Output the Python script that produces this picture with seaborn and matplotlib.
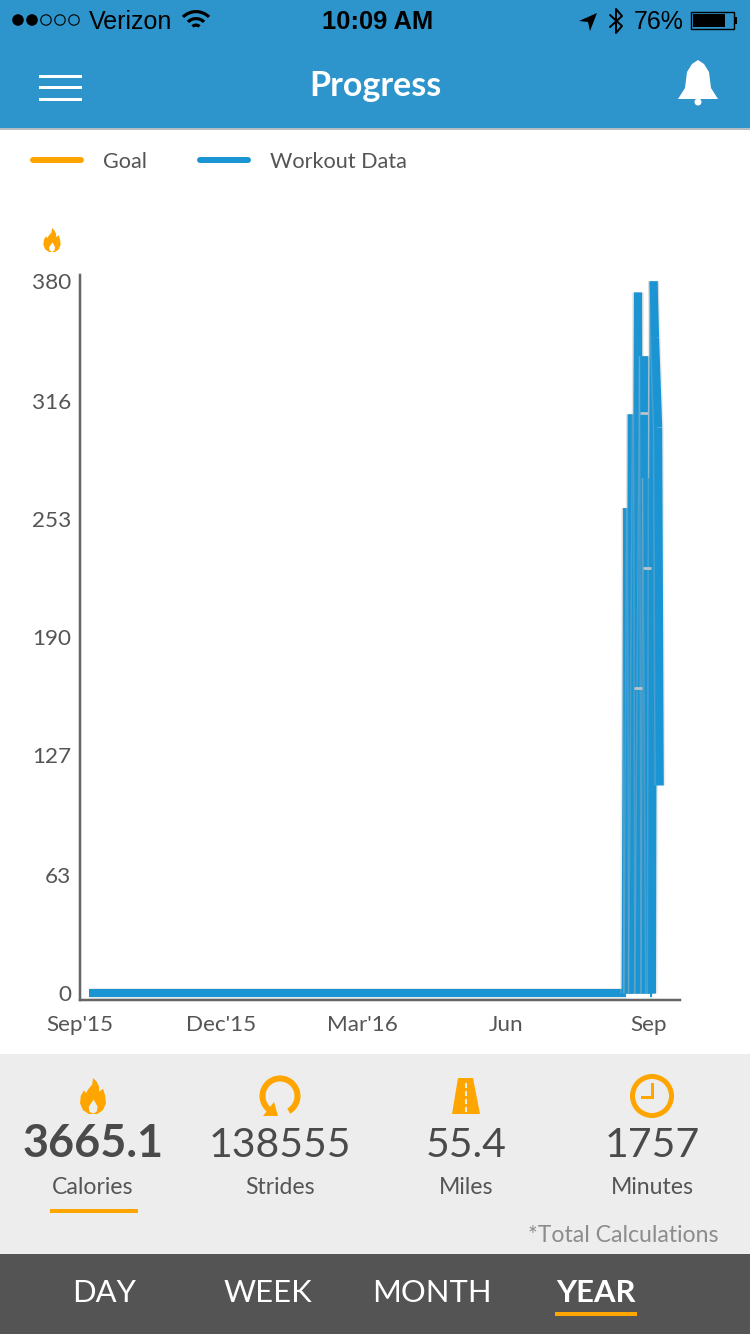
import numpy as np
import pandas as pd
import matplotlib
matplotlib.use("Agg")
import matplotlib.pyplot as plt
import matplotlib.patheffects as pe
from matplotlib.patches import Rectangle, Circle, Polygon, Wedge
from matplotlib.lines import Line2D
import seaborn as sns

# chart data
workout_dates = ["2015-09-07", "2016-08-17", "2016-08-18", "2016-08-19", "2016-08-21", "2016-08-22",
                 "2016-08-25", "2016-08-26", "2016-08-29", "2016-08-30", "2016-08-31", "2016-09-02",
                 "2016-09-03", "2016-09-04", "2016-09-05", "2016-09-07", "2016-09-08"]
workout_values = [0, 0, 259, 0, 309, 0, 374, 0, 340, 0, 275, 0, 0, 380, 350, 302, 111]
seam_dates = ["2016-08-25", "2016-08-29", "2016-08-31"]
seam_values = [163, 310, 227]
y_ticks = [0, 63, 127, 190, 253, 316, 380]
x_ticks = ["2015-09-01", "2015-12-01", "2016-03-01", "2016-06-01", "2016-09-01"]
x_labels = ["Sep'15", "Dec'15", "Mar'16", "Jun", "Sep"]
legend_labels = ["Goal", "Workout Data"]
stat_values = ["3665.1", "138555", "55.4", "1757"]
stat_labels = ["Calories", "Strides", "Miles", "Minutes"]
tab_labels = ["DAY", "WEEK", "MONTH", "YEAR"]

ORANGE = "#FFA500"
BLUE = "#1B94D3"
HEADER = "#2D95CB"
TEXT = "#555555"
W, H = 750, 1334


def px(size):
    # font size in screenshot pixels to points
    return size * 0.72


def flame(ax, cx, top, h, color=ORANGE, inner="#EDEDED"):
    # flame icon, outline in units of its height
    outer = [(0.0, 0.0), (0.1, 0.1), (0.17, 0.24), (0.17, 0.38), (0.28, 0.3), (0.34, 0.5), (0.36, 0.7),
             (0.28, 0.89), (0.12, 1.0), (-0.12, 1.0), (-0.28, 0.89), (-0.36, 0.7), (-0.34, 0.5), (-0.25, 0.34),
             (-0.2, 0.42), (-0.12, 0.3), (-0.02, 0.18)]
    ax.add_patch(Polygon([(cx + x * h, top + y * h) for x, y in outer], color=color, lw=0))
    drop = [(0.02, 0.6), (0.13, 0.8), (0.1, 0.94), (0.0, 0.99), (-0.1, 0.94), (-0.12, 0.8)]
    ax.add_patch(Polygon([(cx + x * h, top + y * h) for x, y in drop], color=inner, lw=0))


sns.set_style("white")
plt.rcParams["font.family"] = ["Lato", "DejaVu Sans"]

fig = plt.figure(figsize=(W / 100, H / 100), dpi=100, facecolor="white")

# screen furniture, in pixel coordinates
ui = fig.add_axes([0, 0, 1, 1], zorder=0)
ui.set_xlim(0, W)
ui.set_ylim(H, 0)
ui.axis("off")
ui.add_patch(Rectangle((0, 0), W, 128, color=HEADER, lw=0))
ui.add_patch(Rectangle((0, 128), W, 1.5, color="#B5BEC4", lw=0))
ui.add_patch(Rectangle((0, 1054), W, 200, color="#EDEDED", lw=0))
ui.add_patch(Rectangle((0, 1254), W, 80, color="#545454", lw=0))

# status bar
for i, cx in enumerate([18, 32, 46, 60, 74]):
    ui.add_patch(Circle((cx, 20), 5.2, fc="black" if i < 2 else "none", ec="black", lw=0.8))
ui.text(89, 29, "Verizon", fontsize=px(25), color="black", family="Liberation Sans")
ui.text(378, 29, "10:09 AM", fontsize=px(25.5), color="black", family="Liberation Sans", ha="center", fontweight="bold")
ui.text(684, 29, "76%", fontsize=px(25), color="black", family="Liberation Sans", ha="right")
for r in [20, 13, 6.5]:
    ui.add_patch(Wedge((196, 30), r, 225, 315, width=3.2, color="black", lw=0))
ui.add_patch(Polygon([(579, 21), (597, 13), (590, 31), (588, 22)], color="black", lw=0))
ui.add_line(Line2D([610, 622, 616, 616, 622, 610], [15, 26, 33, 9, 16, 27], color="black", lw=1.4))
ui.add_patch(Rectangle((691, 12), 43, 17, fc="none", ec="black", lw=1))
ui.add_patch(Rectangle((693, 14), 32, 13, color="black", lw=0))
ui.add_patch(Rectangle((735, 17), 2, 7, color="black", lw=0))

# header
ui.text(375, 96, "Progress", fontsize=px(34), color="white", ha="center", fontweight="bold")
for y in [76, 87, 99]:
    ui.add_patch(Rectangle((39, y - 1.5), 43, 3, color="white", lw=0))
ui.add_patch(Polygon([(698, 60), (704, 64), (709, 72), (711, 88), (718, 99), (678, 99), (685, 88), (687, 72),
                      (692, 64)], color="white", lw=0))
ui.add_patch(Circle((698, 102), 3.5, color="white", lw=0))

# stats row
flame(ui, 93, 1078, 36)
flame(ui, 52, 228, 24, inner="white")
ui.add_patch(Wedge((280, 1096), 20.5, 120, 60, width=6, color=ORANGE, lw=0))
ui.add_patch(Polygon([(263, 1116), (278, 1116), (274, 1102)], color=ORANGE, lw=0))
ui.add_patch(Polygon([(458, 1078), (473, 1078), (480, 1114), (452, 1114)], color=ORANGE, lw=0))
for y in [1083, 1091, 1099, 1107]:
    ui.add_patch(Rectangle((465.2, y), 1.6, 5, color="#EDEDED", lw=0))
ui.add_patch(Circle((652, 1096), 19.5, fc="none", ec=ORANGE, lw=px(5)))
ui.add_patch(Rectangle((651, 1083), 3, 16, color=ORANGE, lw=0))
ui.add_patch(Rectangle((641, 1096), 13, 3, color=ORANGE, lw=0))

stat_x = [93, 280, 466, 652]
for i, (cx, val, lab) in enumerate(zip(stat_x, stat_values, stat_labels)):
    ui.text(cx, 1157, val, fontsize=px(45 if i == 0 else 41), color="#4A4A4A", ha="center",
            fontweight="bold" if i == 0 else "normal")
    ui.text(cx, 1194, lab, fontsize=px(23), color=TEXT, ha="center")
ui.add_patch(Rectangle((50, 1209), 88, 4, color=ORANGE, lw=0))
ui.text(718, 1242, "*Total Calculations", fontsize=px(23), color="#8C8C8C", ha="right")

# tabs
tab_x = [104, 268, 432, 596]
for i, (cx, lab) in enumerate(zip(tab_x, tab_labels)):
    ui.text(cx, 1302, lab, fontsize=px(31), color="white", ha="center", fontweight="bold" if i == 3 else "normal")
ui.add_patch(Rectangle((555, 1312), 82, 4, color=ORANGE, lw=0))

# chart axes: spines at x=79..680, y=275..1000
ax = fig.add_axes([79.5 / W, 1 - 1000 / H, 600.5 / W, 725 / H], zorder=1)
ax.patch.set_alpha(0)

dates = pd.to_datetime(workout_dates)
shadow = [pe.withStroke(linewidth=px(11), foreground="#B4BABE", alpha=0.3)]
# each run is its own stroke, which leaves the pale seams between the bars
for i in range(len(dates) - 1):
    sns.lineplot(x=dates[i:i + 2], y=workout_values[i:i + 2], ax=ax, color=BLUE, sort=False, estimator=None,
                 lw=px(8), solid_capstyle="butt", path_effects=shadow)
sns.scatterplot(x=pd.to_datetime(seam_dates), y=seam_values, ax=ax, marker="_", s=40, color="#B9C4CB",
                linewidth=2, zorder=5)

day0 = pd.Timestamp("2015-09-01")
ax.set_xlim(day0 + pd.Timedelta(days=-0.32), day0 + pd.Timedelta(days=386))
ax.set_ylim(-3.47, 383.4)
ax.set_xticks(pd.to_datetime(x_ticks))
ax.set_xticklabels(x_labels)
ax.set_yticks(y_ticks)
ax.set_xlabel("")
ax.set_ylabel("")
ax.tick_params(axis="both", length=0, labelsize=px(22.5), labelcolor=TEXT)
ax.tick_params(axis="x", pad=11)
ax.tick_params(axis="y", pad=6)
sns.despine(ax=ax)
for side in ["left", "bottom"]:
    ax.spines[side].set_color("#666666")
    ax.spines[side].set_linewidth(px(2.5))

# legend sits above the chart
handles = [Line2D([], [], color=ORANGE, lw=px(6), solid_capstyle="round"),
           Line2D([], [], color=BLUE, lw=px(6), solid_capstyle="round")]
fs = 21.6
fig.legend(handles, legend_labels, ncol=2, frameon=False, loc="center left", bbox_to_anchor=(33 / W, 1 - 162 / H),
           borderaxespad=0, borderpad=0, fontsize=px(fs), labelcolor=TEXT, handlelength=48 / fs,
           handletextpad=22 / fs, columnspacing=53 / fs)

fig.savefig("out.png", dpi=100)
